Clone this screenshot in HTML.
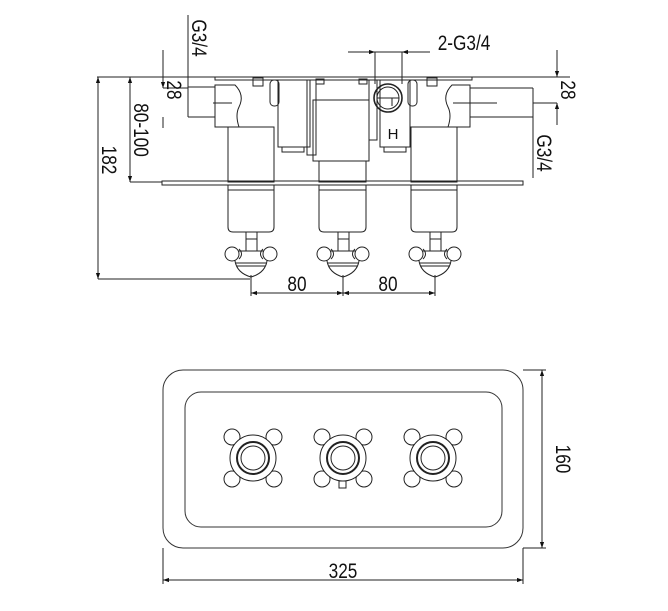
<!DOCTYPE html>
<html><head><meta charset="utf-8"><style>
html,body{margin:0;padding:0;background:#fff;}
svg{display:block;}
text{font-family:"Liberation Sans",sans-serif;fill:#111;}
</style></head><body>
<svg width="668" height="611" viewBox="0 0 668 611" xmlns="http://www.w3.org/2000/svg">
<defs>
<marker id="a" viewBox="0 0 10 10" refX="10" refY="5" markerWidth="9" markerHeight="6" orient="auto-start-reverse"><path d="M0,1.5 L10,5 L0,8.5 z" fill="#111"/></marker>
<g id="h">
 <path d="M-16,-9 h32 v10 q-2,12 -16,16 q-14,-4 -16,-16 z" fill="#fff" stroke="#222" stroke-width="1"/>
 <line x1="-15" y1="3" x2="15" y2="3" stroke="#222"/><line x1="-14" y1="6" x2="14" y2="6" stroke="#222"/>
 <circle cx="-19" cy="-6" r="7" fill="#fff" stroke="#222"/><circle cx="19" cy="-6" r="7" fill="#fff" stroke="#222"/>
 <path d="M-12,-11 q5,5 0,10 M12,-11 q-5,5 0,10" fill="none" stroke="#222"/>
 <rect x="-5" y="-21" width="11" height="12" fill="#fff" stroke="#222"/>
</g>
<g id="k" fill="#fff" stroke="#222" stroke-width="1">
 <circle cx="-21" cy="-21" r="8"/><circle cx="21" cy="-21" r="8"/><circle cx="-21" cy="21" r="8"/><circle cx="21" cy="21" r="8"/>
 <circle cx="0" cy="0" r="23"/>
 <circle cx="0" cy="0" r="16" stroke-width="2"/><circle cx="0" cy="0" r="12"/>
</g>
</defs>
<g fill="none" stroke="#222" stroke-width="1">
<line x1="97" y1="77" x2="570" y2="77"/>
<rect x="215" y="77" width="257" height="3"/>
<rect x="162" y="181" width="361" height="4"/>
<path d="M188,87 H215 M188,117 H215"/>
<path d="M215,85 h20 q10,10 4,22 q-4,8 0,20 h-24 z"/>
<line x1="213" y1="103" x2="232" y2="103"/>
<path d="M470,88 H533 M470,117 H533"/>
<path d="M470,85 h-18 q-10,10 -4,22 q4,8 0,20 h22 z"/>
<line x1="453" y1="103" x2="497" y2="103"/>
<rect x="228" y="127" width="46" height="55"/>
<path d="M228,185 v42 q0,5 5,5 h36 q5,0 5,-5 v-42"/><line x1="228" y1="190" x2="274" y2="190"/>
<rect x="313" y="100" width="56" height="61"/>
<rect x="319" y="161" width="47" height="21"/>
<path d="M319,185 v42 q0,5 5,5 h37 q5,0 5,-5 v-42"/><line x1="319" y1="190" x2="366" y2="190"/>
<rect x="411" y="127" width="46" height="55"/>
<path d="M411,185 v42 q0,5 5,5 h36 q5,0 5,-5 v-42"/><line x1="411" y1="190" x2="457" y2="190"/>
<rect x="278" y="80" width="32" height="67"/>
<rect x="282" y="147" width="22" height="5"/>
<rect x="380" y="80" width="30" height="67"/>
<rect x="384" y="147" width="22" height="5"/>
<rect x="307" y="80" width="9" height="75"/>
<rect x="369" y="80" width="8" height="60"/>
<rect x="270" y="80" width="9" height="26" rx="4"/>
<rect x="408" y="80" width="9" height="26" rx="4"/>
<rect x="253" y="78" width="10" height="8"/><rect x="427" y="78" width="10" height="8"/>
<rect x="316" y="79" width="8" height="5"/><rect x="359" y="79" width="8" height="5"/>
<circle cx="388" cy="98" r="14" stroke-width="1.6"/><circle cx="388" cy="98" r="11"/>
<line x1="377" y1="98" x2="399" y2="98"/><line x1="392" y1="98" x2="392" y2="106"/>
<rect x="246" y="232" width="11" height="13"/><rect x="338" y="232" width="11" height="13"/><rect x="430" y="232" width="11" height="13"/>
</g>
<use href="#h" x="251" y="260"/><use href="#h" x="343" y="260"/><use href="#h" x="435" y="260"/>
<text x="393" y="139" font-size="15" text-anchor="middle">H</text>
<g stroke="#222" stroke-width="1" fill="none">
<line x1="98" y1="77" x2="98" y2="279" marker-start="url(#a)" marker-end="url(#a)"/>
<line x1="98" y1="279" x2="250" y2="279"/>
<line x1="130" y1="77" x2="130" y2="182" marker-start="url(#a)" marker-end="url(#a)"/>
<line x1="130" y1="182" x2="162" y2="182"/>
<line x1="163" y1="50" x2="163" y2="88" marker-end="url(#a)"/>
<line x1="163" y1="128" x2="163" y2="117" />
<line x1="163" y1="88" x2="188" y2="88"/>
<line x1="188" y1="15" x2="188" y2="117"/>
<line x1="188" y1="117" x2="215" y2="117"/>
<line x1="557" y1="50" x2="557" y2="77" marker-end="url(#a)"/>
<line x1="557" y1="125" x2="557" y2="103" marker-end="url(#a)"/>
<line x1="533" y1="103" x2="557" y2="103"/>
<line x1="533" y1="88" x2="533" y2="178"/>
<line x1="348" y1="52" x2="375" y2="52" marker-end="url(#a)"/>
<line x1="430" y1="52" x2="402" y2="52" marker-end="url(#a)"/>
<line x1="375" y1="52" x2="402" y2="52"/>
<line x1="375" y1="52" x2="375" y2="84"/><line x1="402" y1="52" x2="402" y2="84"/>
<line x1="251" y1="275" x2="251" y2="296"/><line x1="343" y1="275" x2="343" y2="296"/><line x1="435" y1="275" x2="435" y2="296"/>
<line x1="251" y1="293" x2="343" y2="293" marker-start="url(#a)" marker-end="url(#a)"/>
<line x1="343" y1="293" x2="435" y2="293" marker-start="url(#a)" marker-end="url(#a)"/>
</g>
<g font-size="21">
<text transform="translate(102,160) rotate(90) scale(0.82,1)" text-anchor="middle">182</text>
<text transform="translate(134,130) rotate(90) scale(0.82,1)" text-anchor="middle">80-100</text>
<text transform="translate(167,90) rotate(90) scale(0.82,1)" text-anchor="middle">28</text>
<text transform="translate(192,38) rotate(90) scale(0.82,1)" text-anchor="middle">G3/4</text>
<text transform="translate(561,90) rotate(90) scale(0.82,1)" text-anchor="middle">28</text>
<text transform="translate(537,153) rotate(90) scale(0.82,1)" text-anchor="middle">G3/4</text>
<text transform="translate(464,50) scale(0.82,1)" text-anchor="middle">2-G3/4</text>
<text transform="translate(297,291) scale(0.82,1)" text-anchor="middle">80</text>
<text transform="translate(388,291) scale(0.82,1)" text-anchor="middle">80</text>
</g>
<g fill="none" stroke="#333" stroke-width="1">
<rect x="163" y="370" width="360" height="178" rx="20"/>
<rect x="185" y="392" width="317" height="135" rx="16"/>
</g>
<use href="#k" x="253" y="458"/><use href="#k" x="343" y="458"/><use href="#k" x="433" y="458"/>
<rect x="339" y="481" width="7" height="7" fill="#fff" stroke="#222"/>
<g stroke="#222" fill="none">
<line x1="523" y1="370" x2="546" y2="370"/><line x1="523" y1="548" x2="546" y2="548"/>
<line x1="542" y1="370" x2="542" y2="548" marker-start="url(#a)" marker-end="url(#a)"/>
<line x1="163" y1="548" x2="163" y2="584"/><line x1="523" y1="548" x2="523" y2="584"/>
<line x1="163" y1="580" x2="523" y2="580" marker-start="url(#a)" marker-end="url(#a)"/>
</g>
<text transform="translate(556,459) rotate(90) scale(0.82,1)" text-anchor="middle" font-size="21">160</text>
<text transform="translate(343,578) scale(0.82,1)" text-anchor="middle" font-size="21">325</text>
</svg>
</body></html>
